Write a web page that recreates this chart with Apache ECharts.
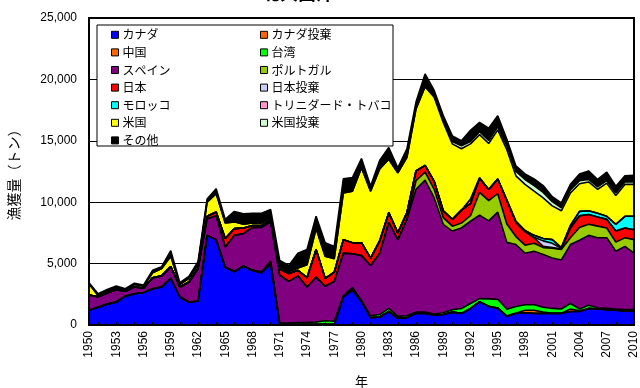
<!DOCTYPE html>
<html>
<head>
<meta charset="utf-8">
<script src="https://cdn.jsdelivr.net/npm/echarts@6/dist/echarts.min.js"></script>
<style>
html,body{margin:0;padding:0;background:#fff}
#chart{width:640px;height:388px}
</style>
</head>
<body>
<div id="chart"></div>
<script>
// 北大西洋の国別漁獲量 (トン), 1950–2010, stacked from bottom to top
const years = ['1950','1951','1952','1953','1954','1955','1956','1957','1958','1959',
  '1960','1961','1962','1963','1964','1965','1966','1967','1968','1969',
  '1970','1971','1972','1973','1974','1975','1976','1977','1978','1979',
  '1980','1981','1982','1983','1984','1985','1986','1987','1988','1989',
  '1990','1991','1992','1993','1994','1995','1996','1997','1998','1999',
  '2000','2001','2002','2003','2004','2005','2006','2007','2008','2009','2010'];

const yTicks = [0, 5000, 10000, 15000, 20000, 25000];

const canada = [1200,1450,1700,1870,2350,2550,2650,2950,3100,3800,
  2300,1850,1950,7300,6950,4700,4350,4800,4450,4250,
  5000,50,50,50,50,50,50,50,2300,2850,
  1900,600,650,1100,550,600,950,950,800,850,
  1050,950,1350,1900,1500,1350,700,950,1000,950,
  950,950,950,1100,1100,1350,1300,1250,1200,1150,1150];
const canadaDiscard = [0,0,0,0,0,0,0,0,0,0,
  0,0,0,0,0,0,0,0,0,0,
  0,0,0,0,0,0,0,0,0,0,
  0,0,0,0,0,0,0,0,0,0,
  0,0,0,0,30,40,30,0,0,0,
  0,0,0,0,0,0,0,0,0,0,0];
const china = [0,0,0,0,0,0,0,0,0,0,
  0,0,0,0,0,0,0,0,0,0,
  0,0,0,0,0,0,0,0,0,0,
  0,0,0,0,0,0,0,0,0,0,
  0,0,0,0,0,0,0,0,200,250,
  100,0,0,200,50,0,0,0,0,0,0];
const taiwan = [0,0,0,0,0,0,0,0,0,0,
  0,0,0,0,0,0,0,0,0,100,
  200,100,100,150,150,200,300,250,100,200,
  100,150,200,250,150,150,100,100,100,150,
  200,400,400,250,600,700,550,550,450,450,
  400,400,350,450,150,250,100,100,100,100,100];
const spain = [1250,850,900,1000,400,550,350,900,900,950,
  800,1650,2650,1350,1950,1650,2950,2650,3500,3600,
  3200,3900,3400,3800,2900,3650,2800,3250,3450,2750,
  3650,4100,5000,7000,6250,7850,10000,10750,9450,7200,
  6400,6550,6700,6800,6350,7100,5450,5050,4200,4350,
  4300,4100,4000,4800,5600,5700,5700,5750,4700,5150,4600];
const portugal = [0,0,0,0,0,0,0,0,0,0,
  0,0,0,0,0,0,0,0,0,0,
  0,0,0,0,0,0,0,0,0,0,
  0,0,0,0,0,0,700,650,700,550,
  400,400,450,1850,1650,1500,1500,650,650,650,
  550,800,850,550,1050,900,950,800,750,700,1100];
const japan = [0,0,0,0,0,0,0,0,0,0,
  0,0,0,200,300,700,550,450,150,150,
  150,500,650,450,750,2250,650,750,1100,900,
  1050,600,1000,800,550,550,800,550,650,550,
  550,1050,1000,1150,900,1200,1900,1150,1100,450,
  100,50,50,800,950,800,750,700,900,800,800];
const japanDiscard = [0,0,0,0,0,0,0,0,0,0,
  0,0,0,0,0,0,0,0,0,0,
  0,0,0,0,0,0,0,0,0,0,
  0,0,0,0,0,0,0,0,0,0,
  0,0,0,0,0,0,0,0,0,50,
  450,350,50,0,0,0,0,0,0,0,0];
const morocco = [0,0,0,0,0,0,0,0,0,0,
  0,0,0,0,0,0,0,0,0,0,
  0,0,0,0,0,0,0,0,0,0,
  0,0,0,0,0,0,0,0,0,0,
  0,0,0,0,0,0,50,100,100,150,
  200,300,50,200,350,300,300,250,550,950,1100];
const trinidad = [0,0,0,0,0,0,0,0,0,0,
  0,0,0,0,0,0,0,0,0,0,
  0,0,0,0,0,0,0,0,0,0,
  0,0,0,0,0,0,0,0,0,0,
  0,0,350,50,0,0,0,0,0,0,
  0,0,0,0,0,0,0,0,0,0,0];
const usa = [900,100,100,100,50,200,150,400,600,850,
  200,300,300,1150,1500,1250,550,300,200,200,
  150,100,150,200,1050,1700,1800,1100,3800,4200,
  6100,5450,5850,4350,4900,4500,5050,6400,6850,7200,
  6150,5000,4500,3500,3750,4000,4100,3700,3750,3600,
  3300,2750,3000,2650,2250,2350,1950,2700,2350,2600,2600];
const usaDiscard = [0,0,0,0,0,0,0,0,0,0,
  0,0,0,0,0,0,0,0,0,0,
  0,0,0,0,0,0,0,0,0,0,
  0,0,0,0,0,0,0,0,100,150,
  200,250,200,250,250,250,300,350,400,450,
  450,350,250,250,250,200,200,200,200,200,200];
const others = [100,150,200,200,150,100,100,200,150,450,
  150,150,250,250,400,300,850,850,800,800,
  700,600,500,1200,1250,1000,1100,1000,1150,1100,
  750,400,700,950,400,700,550,1050,450,400,
  450,400,900,750,1000,900,550,450,450,550,
  550,400,400,450,550,700,600,700,550,500,550];

// stacking order (bottom → top) with fill colours
const layers = [
  ['カナダ', canada, '#0000FF'],
  ['カナダ投棄', canadaDiscard, '#FF6600'],
  ['中国', china, '#FF6600'],
  ['台湾', taiwan, '#00FF00'],
  ['スペイン', spain, '#800080'],
  ['ポルトガル', portugal, '#99CC00'],
  ['日本', japan, '#FF0000'],
  ['日本投棄', japanDiscard, '#CCCCFF'],
  ['モロッコ', morocco, '#00FFFF'],
  ['トリニダード・トバコ', trinidad, '#FF99CC'],
  ['米国', usa, '#FFFF00'],
  ['米国投棄', usaDiscard, '#CCFFCC'],
  ['その他', others, '#000000']
];

const legendLeft = ['カナダ','中国','スペイン','日本','モロッコ','米国','その他'];
const legendRight = ['カナダ投棄','台湾','ポルトガル','日本投棄','トリニダード・トバコ','米国投棄'];

const latin = 'Liberation Sans, Arial, sans-serif';
const cjk = '"Noto Sans CJK JP", sans-serif';

const legendCommon = {
  orient: 'vertical',
  top: 28,
  padding: 0,
  itemGap: 4,
  itemWidth: 7,
  itemHeight: 7,
  icon: 'rect',
  selectedMode: false,
  itemStyle: { borderColor: '#000', borderWidth: 1 },
  textStyle: { fontFamily: cjk, fontSize: 12, color: '#000', lineHeight: 13.6, padding: [0, 0, 0, -1] }
};

const chart = echarts.init(document.getElementById('chart'), null, { renderer: 'canvas' });
chart.setOption({
  animation: false,
  backgroundColor: '#fff',
  title: {
    text: '北大西洋',
    left: 257,
    top: -21,
    textStyle: { fontFamily: cjk, fontSize: 18, fontWeight: 'bold', color: '#000' }
  },
  grid: { left: 89, right: 6, top: 18, bottom: 63, containLabel: false, outerBoundsMode: 'none' },
  legend: [
    Object.assign({ left: 111, data: legendLeft, z: 5 }, legendCommon),
    Object.assign({ left: 260, data: legendRight, z: 5 }, legendCommon)
  ],
  graphic: [
    { type: 'rect', z: 3, shape: { x: 97, y: 25, width: 296, height: 121 },
      style: { fill: '#fff', stroke: '#000', lineWidth: 1 } },
    { type: 'rect', z: 10, shape: { x: 89, y: 18, width: 545, height: 307 },
      style: { fill: 'none', stroke: '#000', lineWidth: 2 } }
  ],
  xAxis: {
    type: 'category',
    data: years,
    boundaryGap: false,
    z: 6,
    name: '年',
    nameLocation: 'middle',
    nameGap: 50,
    nameTextStyle: { fontFamily: cjk, fontSize: 13, color: '#000' },
    axisLine: { show: true, lineStyle: { color: '#000', width: 2 } },
    axisTick: { show: true, inside: true, interval: 0, length: 3, lineStyle: { color: '#000', width: 1 } },
    axisLabel: { interval: 2, rotate: 90, margin: 6, fontFamily: latin, fontSize: 12, color: '#000' },
    splitLine: { show: false }
  },
  yAxis: {
    type: 'value',
    min: yTicks[0],
    max: yTicks[yTicks.length - 1],
    interval: 5000,
    name: '漁獲量（トン）',
    nameLocation: 'middle',
    nameGap: 68,
    nameTextStyle: { fontFamily: cjk, fontSize: 14, color: '#000' },
    axisLine: { show: false },
    axisTick: { show: false },
    axisLabel: { margin: 12, fontFamily: latin, fontSize: 12, color: '#000',
      formatter: v => v.toLocaleString('en-US') },
    splitLine: { show: true, lineStyle: { color: '#000', width: 1 } }
  },
  series: layers.map(([name, values, color]) => ({
    name: name,
    type: 'line',
    stack: 'catch',
    data: values,
    symbol: 'none',
    smooth: false,
    itemStyle: { color: color },
    lineStyle: { color: '#000', width: 1.6 },
    areaStyle: { color: color, opacity: 1 }
  }))
});
</script>
</body>
</html>
